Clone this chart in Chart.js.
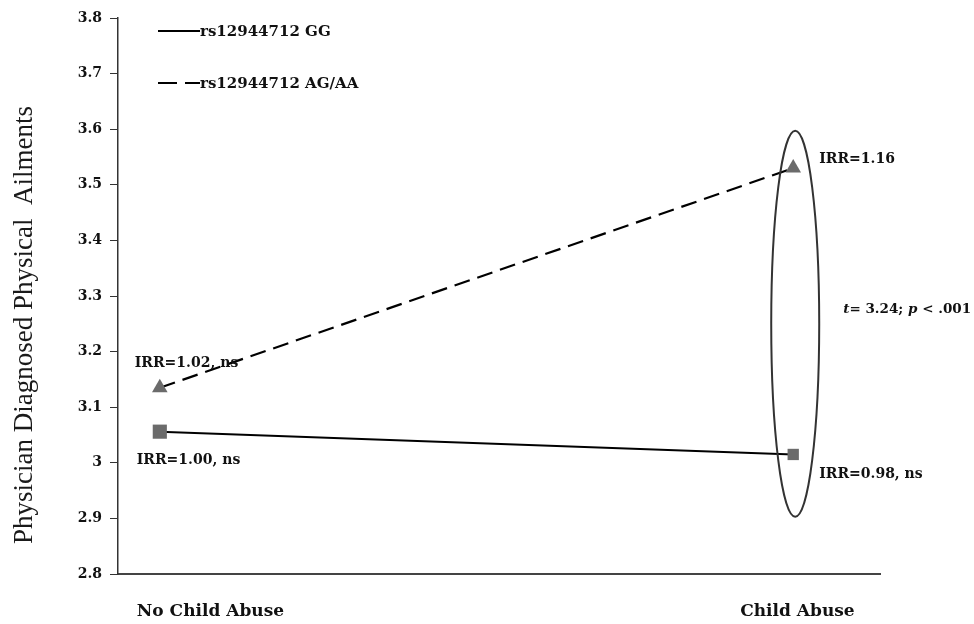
<!DOCTYPE html>
<html>
<head>
<meta charset="utf-8">
<script src="https://cdn.jsdelivr.net/npm/chart.js@4.4.1/dist/chart.umd.min.js"></script>
<style>
  html, body { margin: 0; padding: 0; background: #fff; }
  #wrap { width: 974px; height: 624px; }
</style>
</head>
<body>
<div id="wrap"><canvas id="irrChart" width="974" height="624"></canvas></div>
<script>
// groups on the x axis (0 = no abuse, 1 = abuse)
const groups = ["No Child Abuse", "Child Abuse"];
const groupPos = [0, 1];

// predicted ailment counts per genotype
const ggValues = [3.056, 3.015];
const agValues = [3.135, 3.53];

// IRR notes next to each point
const ggNotes = ["IRR=1.00, ns", "IRR=0.98, ns"];
const agNotes = ["IRR=1.02, ns", "IRR=1.16"];

// ellipse around the abuse group: bottom / top in axis units
const ellipseRange = [2.903, 3.597];

const yTitle = "Physician Diagnosed Physical  Ailments";

const serif = "'Liberation Serif', 'Times New Roman', serif";
const wideSerif = "'DejaVu Serif', serif";
const markerGrey = "#6b6b6b";

const toPoints = (vals) => vals.map((v, i) => ({ x: groupPos[i], y: v }));

const annotationPlugin = {
  id: "annotationPlugin",
  afterDatasetsDraw(chart) {
    const { ctx, scales } = chart;
    const xs = scales.x, ys = scales.y;
    ctx.save();

    // ellipse around the child abuse points
    const cx = xs.getPixelForValue(groupPos[1]) + 2;
    const top = ys.getPixelForValue(ellipseRange[1]);
    const bot = ys.getPixelForValue(ellipseRange[0]);
    ctx.beginPath();
    ctx.ellipse(cx, (top + bot) / 2, 24, (bot - top) / 2, 0, 0, 2 * Math.PI);
    ctx.strokeStyle = "#333";
    ctx.lineWidth = 2;
    ctx.stroke();

    ctx.fillStyle = "#111";
    ctx.textBaseline = "middle";
    ctx.font = "bold 14px " + wideSerif;
    ctx.textAlign = "left";

    const x0 = xs.getPixelForValue(groupPos[0]);
    const x1 = xs.getPixelForValue(groupPos[1]);
    ctx.fillText(agNotes[0], x0 - 25, ys.getPixelForValue(agValues[0]) - 24);
    ctx.fillText(ggNotes[0], x0 - 23, ys.getPixelForValue(ggValues[0]) + 29);
    ctx.fillText(agNotes[1], x1 + 26, ys.getPixelForValue(agValues[1]) - 9);
    ctx.fillText(ggNotes[1], x1 + 26, ys.getPixelForValue(ggValues[1]) + 20);

    // test statistic beside the ellipse
    let tx = x1 + 50;
    const ty = 309;
    const parts = [
      ["italic bold 13.5px ", "t"],
      ["bold 13.5px ", "= 3.24; "],
      ["italic bold 13.5px ", "p"],
      ["bold 13.5px ", " < .001"]
    ];
    parts.forEach(([f, s]) => {
      ctx.font = f + wideSerif;
      ctx.fillText(s, tx, ty);
      tx += ctx.measureText(s).width;
    });

    // group labels under the axis
    ctx.font = "bold 17px " + wideSerif;
    ctx.fillText(groups[0], x0 - 23, 612);
    ctx.fillText(groups[1], x1 - 53, 612);

    // y axis title
    ctx.save();
    ctx.translate(25, 325);
    ctx.rotate(-Math.PI / 2);
    ctx.textAlign = "center";
    ctx.font = "27px " + serif;
    ctx.fillStyle = "#1a1a1a";
    ctx.fillText(yTitle, 0, 0);
    ctx.restore();

    // legend
    const legend = [
      [[], "rs12944712 GG", 31],
      [[19, 8], "rs12944712 AG/AA", 83]
    ];
    legend.forEach(([dash, label, y]) => {
      ctx.beginPath();
      ctx.setLineDash(dash);
      ctx.moveTo(158, y);
      ctx.lineTo(200, y);
      ctx.strokeStyle = "#000";
      ctx.lineWidth = 2;
      ctx.stroke();
      ctx.setLineDash([]);
      ctx.font = "bold 15px " + wideSerif;
      ctx.fillText(label, 200, y + 1);
    });
    ctx.restore();
  }
};

new Chart(document.getElementById("irrChart").getContext("2d"), {
  type: "line",
  data: {
    datasets: [
      {
        label: "rs12944712 GG",
        data: toPoints(ggValues),
        borderColor: "#000",
        borderWidth: 2,
        pointStyle: "rect",
        pointRadius: [10, 8],
        pointBackgroundColor: markerGrey,
        pointBorderColor: markerGrey,
        pointBorderWidth: 0
      },
      {
        label: "rs12944712 AG/AA",
        data: toPoints(agValues),
        borderColor: "#000",
        borderWidth: 2.2,
        borderDash: [16, 8],
        pointStyle: "triangle",
        pointRadius: 9,
        pointBackgroundColor: markerGrey,
        pointBorderColor: markerGrey,
        pointBorderWidth: 0
      }
    ]
  },
  options: {
    responsive: false,
    animation: false,
    layout: { padding: { left: 8, right: 94, top: 18, bottom: 42 } },
    plugins: {
      legend: { display: false },
      tooltip: { enabled: false }
    },
    scales: {
      x: {
        type: "linear",
        min: -0.066,
        max: 1.137,
        ticks: { display: false },
        grid: { display: false },
        border: { display: true, color: "#444", width: 2 }
      },
      y: {
        min: 2.8,
        max: 3.8,
        afterFit(scale) { scale.width = 110; },
        ticks: {
          stepSize: 0.1,
          color: "#111",
          padding: 8,
          font: { family: wideSerif, size: 14, weight: "bold" },
          callback: (v) => String(Number(v.toFixed(1)))
        },
        grid: {
          drawOnChartArea: false,
          drawTicks: true,
          tickLength: 8,
          color: "#333"
        },
        border: { display: true, color: "#333", width: 1.5 }
      }
    }
  },
  plugins: [annotationPlugin]
});
</script>
</body>
</html>
